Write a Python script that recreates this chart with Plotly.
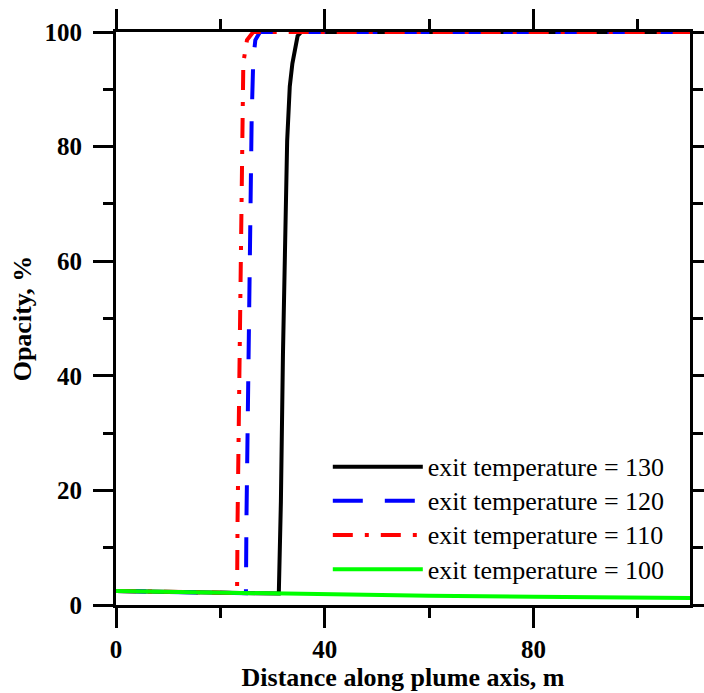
import plotly.graph_objects as go

# Data
x_t130 = [0, 10, 20, 31.2, 31.6, 32.0, 32.8, 33.3, 33.8, 34.3, 34.8, 35.5, 60, 110]
y_t130 = [2.45, 2.3, 2.15, 2.0, 18, 44, 81, 90.5, 94.5, 97.3, 99.3, 100, 100, 100]

x_t120 = [0, 10, 20, 24.9, 25.0, 25.3, 25.6, 26.0, 26.3, 26.7, 27.6, 60, 110]
y_t120 = [2.45, 2.3, 2.15, 2.05, 15, 40, 65, 85, 95, 98.6, 100, 100, 100]

x_t110 = [0, 10, 20, 23.2, 23.3, 23.6, 24.0, 24.3, 24.4, 25.1, 26.3, 60, 110]
y_t110 = [2.45, 2.3, 2.15, 2.1, 15, 41, 70, 85, 94.6, 98.6, 100, 100, 100]

x_t100 = [0, 20, 40, 60, 80, 110]
y_t100 = [2.45, 2.15, 1.85, 1.6, 1.45, 1.2]

series_names = ["exit temperature = 130", "exit temperature = 120",
                "exit temperature = 110", "exit temperature = 100"]

FONT = "Liberation Serif"


def legend_label(text):
    return '<span style="font-size:26px">' + text + "</span>"


fig = go.Figure()
fig.add_trace(go.Scatter(x=x_t130, y=y_t130, mode="lines", name=legend_label(series_names[0]),
                         line=dict(color="black", width=4)))
fig.add_trace(go.Scatter(x=x_t120, y=y_t120, mode="lines", name=legend_label(series_names[1]),
                         line=dict(color="#0000ff", width=4, dash="30px,22px")))
fig.add_trace(go.Scatter(x=x_t110, y=y_t110, mode="lines", name=legend_label(series_names[2]),
                         line=dict(color="#ff0000", width=4, dash="20px,12px,4px,12px")))
fig.add_trace(go.Scatter(x=x_t100, y=y_t100, mode="lines", name=legend_label(series_names[3]),
                         line=dict(color="#00ff00", width=4)))

axis_common = dict(
    showline=True, linecolor="black", linewidth=3,
    mirror="allticks", ticks="outside", ticklen=20, tickwidth=3, tickcolor="black",
    showgrid=False, zeroline=False, automargin=False,
    tickfont=dict(family=FONT, size=25, color="black", weight="bold"),
)

fig.update_xaxes(
    range=[0, 110], dtick=40, tick0=0,
    minor=dict(dtick=20, tick0=0, ticklen=10, tickwidth=3, tickcolor="black", ticks="outside"),
    title=dict(text="<b>Distance along plume axis, m</b>",
               font=dict(family=FONT, size=26, color="black"), standoff=0),
    **axis_common,
)
fig.update_yaxes(
    range=[0, 100], dtick=20, tick0=0,
    minor=dict(dtick=10, tick0=0, ticklen=10, tickwidth=3, tickcolor="black", ticks="outside"),
    ticklabelstandoff=6,
    title=dict(text="<b>Opacity, %</b>",
               font=dict(family=FONT, size=26, color="black"), standoff=6),
    **axis_common,
)

fig.update_layout(
    width=704, height=693,
    margin=dict(l=116, r=14, t=32, b=88),
    plot_bgcolor="white", paper_bgcolor="white",
    font=dict(family=FONT),
    showlegend=True,
    legend=dict(
        x=0.369, y=0.28, xanchor="left", yanchor="top",
        bgcolor="rgba(0,0,0,0)",
        font=dict(family=FONT, size=24, color="black"),
        itemwidth=90, tracegroupgap=0,
    ),
)

fig.write_html("out.html")
